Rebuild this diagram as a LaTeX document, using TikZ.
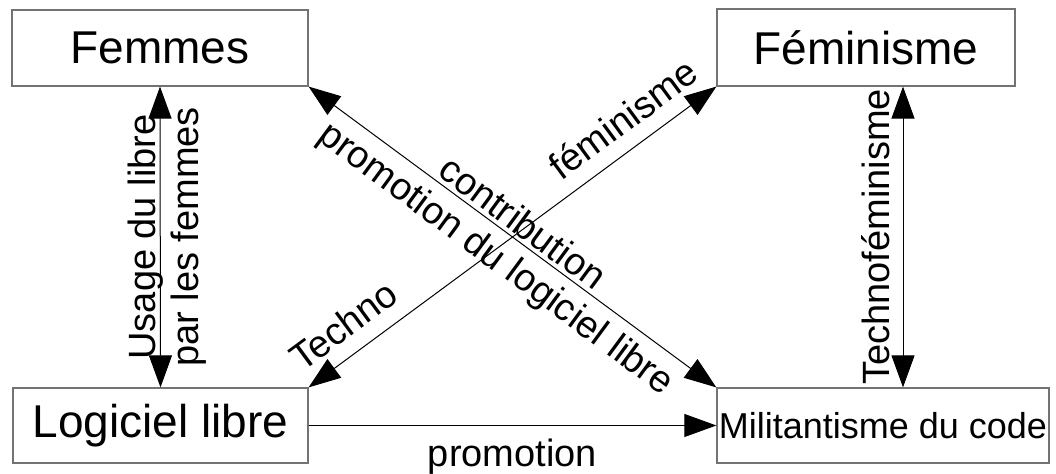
\documentclass[tikz,border=0pt]{standalone}
\usepackage{fontspec}
\setmainfont{Liberation Sans}
\usetikzlibrary{arrows.meta}

\tikzset{
	boite/.style={draw=black!55, line width=0.6pt, inner sep=1pt, font=\fontsize{23pt}{27pt}\selectfont},
	lien/.style={line width=0.5pt, >={Triangle[length=16pt,width=11.5pt]}},
	etiquette/.style={font=\fontsize{19pt}{21.5pt}\selectfont, inner sep=1pt},
}

\begin{document}
\begin{tikzpicture}[x=0.5pt, y=-0.5pt]
		\useasboundingbox (0,0) rectangle (1056,474);
		
		\node[boite, minimum width=148pt, minimum height=38pt] (femmes) at (160,48) {Femmes};
		\node[boite, minimum width=149pt, minimum height=38.5pt] (feminisme) at (866,47.5) {Féminisme};
		\node[boite, minimum width=147.5pt, minimum height=37.5pt] (logiciel) at (160.5,425.5) {Logiciel libre};
		\node[boite, minimum width=165pt, minimum height=37.5pt, font=\fontsize{18pt}{21pt}\selectfont] (militantisme) at (883,425.5) {Militantisme du code};
		\coordinate (tf) at (903,0);
		
		\draw[lien, <->] (logiciel.north) -- (femmes.south)
			node[etiquette, midway, rotate=90, align=center, yshift=-3.5pt] {Usage du libre\\par les femmes};
		\draw[lien, <->] (femmes.south east) -- (militantisme.north west)
			node[etiquette, midway, sloped, align=center, yshift=-3.5pt] {contribution\\promotion du logiciel libre};
		\draw[lien, <->] (logiciel.north east) -- (feminisme.south west)
			node[etiquette, pos=0.128, sloped, above=6.5pt] {Techno}
			node[etiquette, pos=0.814, sloped, above=6.5pt] {féminisme};
		\draw[lien, <->] (militantisme.north -| tf) -- (feminisme.south -| tf)
			node[etiquette, midway, sloped, above=5.5pt] {Technoféminisme};
		\draw[lien, ->] (logiciel.east) -- (militantisme.west)
			node[etiquette, midway, below=5.4pt] {promotion};
		
	\end{tikzpicture}
\end{document}
